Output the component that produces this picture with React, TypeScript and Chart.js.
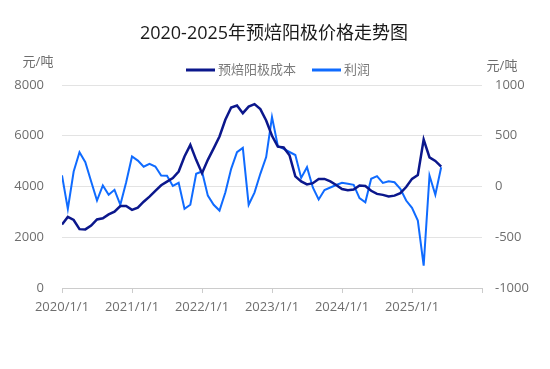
import React, { useEffect, useRef } from 'react';
import { Chart, registerables } from 'chart.js';

Chart.register(...registerables);

const chartTitle = '2020-2025年预焙阳极价格走势图';
const seriesNames = ['预焙阳极成本', '利润'];
const unitLabel = '元/吨';
const xTickLabels = ['2020/1/1', '2021/1/1', '2022/1/1', '2023/1/1', '2024/1/1', '2025/1/1', ''];

// monthly values, 2020/1 .. 2025/6
const costValues = [
  2500, 2800, 2680, 2320, 2310, 2460, 2700, 2750, 2900, 3010, 3230, 3230,
  3080, 3170, 3400, 3600, 3830, 4050, 4190, 4330, 4590, 5180, 5641, 5050,
  4525, 5050, 5500, 5970, 6628, 7113, 7192, 6890, 7150, 7247, 7050, 6600,
  6000, 5570, 5540, 5230, 4400, 4200, 4080, 4130, 4300, 4300, 4200, 4060,
  3900, 3850, 3880, 4040, 4020, 3830, 3710, 3670, 3610, 3640, 3740, 3980,
  4300, 4450, 5850, 5150, 5010, 4785,
];
const profitValues = [
  110, -220, 148, 338, 240, 49, -138, 10, -82, -33, -180, 42,
  296, 255, 195, 224, 197, 108, 105, 5, 36, -220, -180, 125,
  148, -90, -180, -237, -60, 174, 338, 381, -180, -60, 125, 290,
  683, 400, 370, 340, 310, 85, 190, -10, -128, -35, -10, 15,
  36, 28, 17, -115, -155, 76, 102, 36, 52, 42, -23, -138,
  -210, -335, -779, 108, -82, 190,
];

const costColor = '#0b178c';
const profitColor = '#0f6bff';
const FONT = "'Open Sans', 'Noto Sans CJK SC', sans-serif";
const tickColor = '#6e6e6e';
const legendColor = '#7a7a7a';

const overlay = {
  id: 'overlay',
  afterDraw(chart: any) {
    const ctx = chart.ctx;
    ctx.save();
    ctx.textBaseline = 'middle';
    ctx.textAlign = 'center';
    ctx.fillStyle = '#1a1a1a';
    ctx.font = `18px ${FONT}`;
    ctx.fillText(chartTitle, 274, 34);

    ctx.font = `13px ${FONT}`;
    ctx.fillStyle = tickColor;
    ctx.fillText(unitLabel, 38, 62);
    ctx.fillText(unitLabel, 502, 66);

    // legend
    const items = [
      { name: seriesNames[0], color: costColor, x: 186 },
      { name: seriesNames[1], color: profitColor, x: 312 },
    ];
    ctx.textAlign = 'left';
    for (const it of items) {
      ctx.strokeStyle = it.color;
      ctx.lineWidth = 3;
      ctx.beginPath();
      ctx.moveTo(it.x, 70);
      ctx.lineTo(it.x + 29, 70);
      ctx.stroke();
      ctx.fillStyle = legendColor;
      ctx.fillText(it.name, it.x + 32, 70);
    }
    ctx.restore();
  },
};

const plain = (v: any) => String(v);

export default function App() {
  const ref = useRef<HTMLCanvasElement>(null);
  useEffect(() => {
    if (!ref.current) return;
    const chart = new Chart(ref.current, {
      type: 'line',
      data: {
        datasets: [
          {
            label: seriesNames[0],
            data: costValues.map((v, i) => ({ x: i, y: v })),
            borderColor: costColor,
            backgroundColor: costColor,
            borderWidth: 2.5,
            pointRadius: 0,
            yAxisID: 'y',
            tension: 0,
          },
          {
            label: seriesNames[1],
            data: profitValues.map((v, i) => ({ x: i, y: v })),
            borderColor: profitColor,
            backgroundColor: profitColor,
            borderWidth: 2,
            pointRadius: 0,
            yAxisID: 'y1',
            tension: 0,
          },
        ],
      },
      options: {
        responsive: false,
        animation: false,
        layout: { padding: { top: 85, left: 0, right: 0, bottom: 0 } },
        plugins: {
          legend: { display: false },
          title: { display: false },
          tooltip: { enabled: false },
        },
        scales: {
          x: {
            type: 'linear',
            min: 0,
            max: 72,
            afterFit: (s: any) => { s.height = 81; },
            grid: { drawOnChartArea: false, drawTicks: true, tickLength: 5, color: '#cccccc' },
            border: { display: true, color: '#cccccc' },
            ticks: {
              stepSize: 12,
              autoSkip: false,
              maxRotation: 0,
              padding: 6,
              color: tickColor,
              font: { family: FONT, size: 13 },
              callback: (v: any) => xTickLabels[Math.round(Number(v) / 12)] ?? '',
            },
          },
          y: {
            position: 'left',
            min: 0,
            max: 8000,
            afterFit: (s: any) => { s.width = 62; },
            grid: { color: '#e3e3e3', drawTicks: false },
            border: { display: false },
            ticks: {
              stepSize: 2000,
              padding: 18,
              color: tickColor,
              font: { family: FONT, size: 13 },
              callback: plain,
            },
          },
          y1: {
            position: 'right',
            min: -1000,
            max: 1000,
            afterFit: (s: any) => { s.width = 68; },
            grid: { drawOnChartArea: false, drawTicks: false },
            border: { display: false },
            ticks: {
              stepSize: 500,
              padding: 13,
              color: tickColor,
              font: { family: FONT, size: 13 },
              callback: plain,
            },
          },
        },
      },
      plugins: [overlay],
    });
    return () => chart.destroy();
  }, []);
  return (
    <div style={{ position: 'fixed', left: 0, top: 0, width: 550, height: 369, background: '#fff' }}>
      <canvas ref={ref} width={550} height={369} style={{ display: 'block' }} />
    </div>
  );
}
